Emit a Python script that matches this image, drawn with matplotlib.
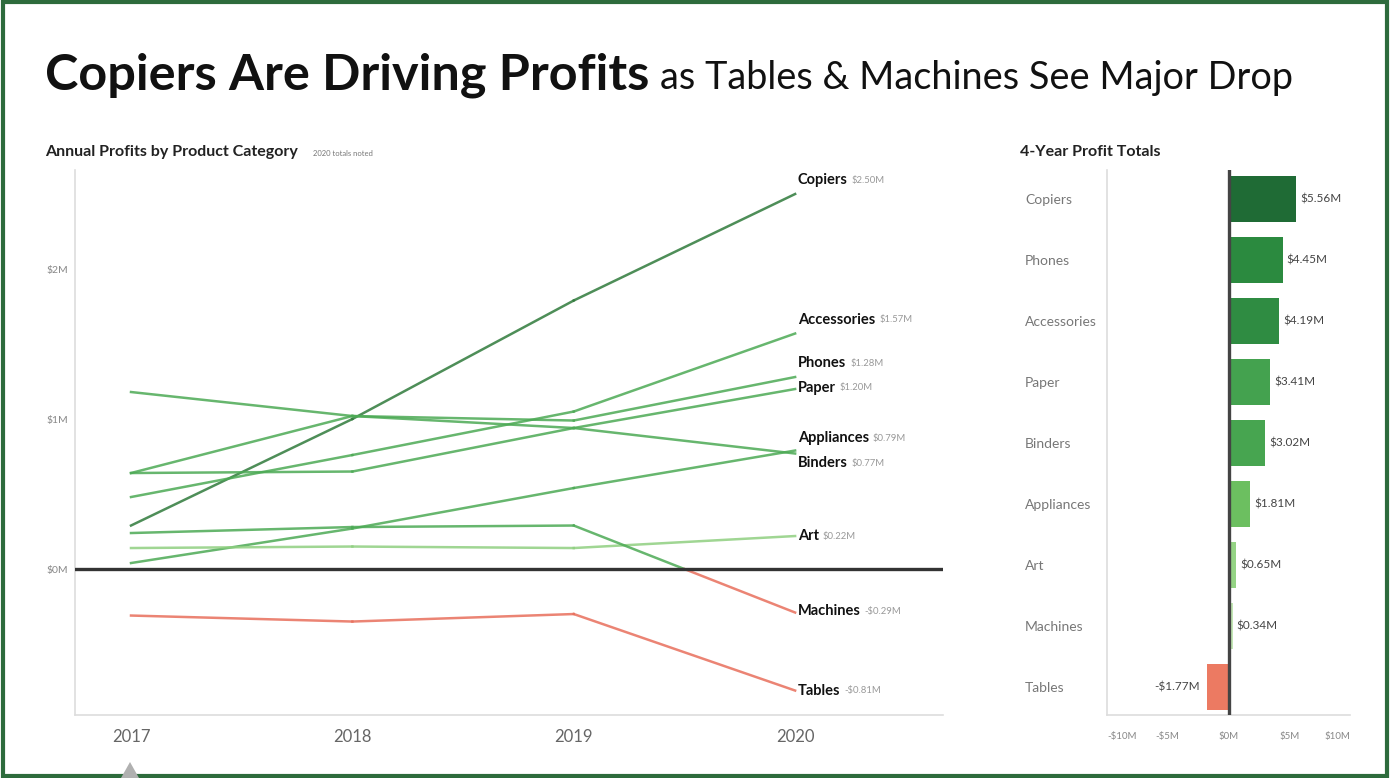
import matplotlib
matplotlib.use("Agg")
import matplotlib.pyplot as plt
import numpy as np
from matplotlib.patches import Rectangle, Polygon

plt.rcParams['font.family'] = ['Lato', 'DejaVu Sans']

# yearly profit per category ($M)
years = [2017, 2018, 2019, 2020]
categories = ['Copiers', 'Accessories', 'Phones', 'Paper', 'Appliances',
              'Binders', 'Art', 'Machines', 'Tables']
profits = {
    'Copiers':     [0.29, 1.00, 1.79, 2.50],
    'Accessories': [0.48, 0.76, 1.05, 1.57],
    'Phones':      [0.64, 1.02, 0.99, 1.28],
    'Paper':       [0.64, 0.65, 0.94, 1.20],
    'Appliances':  [0.04, 0.27, 0.54, 0.79],
    'Binders':     [1.18, 1.02, 0.94, 0.77],
    'Art':         [0.14, 0.15, 0.14, 0.22],
    'Machines':    [0.24, 0.28, 0.29, -0.29],
    'Tables':      [-0.31, -0.35, -0.30, -0.81],
}

# 4-year totals ($M)
total_names = ['Copiers', 'Phones', 'Accessories', 'Paper', 'Binders',
               'Appliances', 'Art', 'Machines', 'Tables']
total_values = [5.56, 4.45, 4.19, 3.41, 3.02, 1.81, 0.65, 0.34, -1.77]

GREEN_LINE = '#4caa55'
RED_LINE = '#e86f5c'
line_colors = {'Copiers': '#2f7a3b', 'Art': '#8fcf80'}
# vertical nudge (points) of end labels so they don't collide
label_nudge = {'Copiers': 10, 'Accessories': 10, 'Phones': 10, 'Paper': 1,
               'Appliances': 9, 'Binders': -7, 'Machines': 1}
bar_colors = ['#1f6b35', '#2b8a3f', '#2f8c42', '#44a24f', '#47a550',
              '#6cbf60', '#94d384', '#c3e6b5', '#ec7a62']

W, H = 13.9, 7.78
fig = plt.figure(figsize=(W, H), dpi=100)
fig.patch.set_facecolor('white')
fig.patches.append(Rectangle((0.002, 0.003), 0.996, 0.994, transform=fig.transFigure,
                             fill=False, edgecolor='#2d6b3c', linewidth=3))

fig.text(45 / 1390, 1 - 89 / 778, 'Copiers Are Driving Profits', fontsize=36.3,
         fontweight='bold', va='baseline', ha='left', color='#111111')
fig.text(660 / 1390, 1 - 89 / 778, 'as Tables & Machines See Major Drop', fontsize=27.3,
         va='baseline', ha='left', color='#111111')

# ---- left: annual lines ----
ax = fig.add_axes([75 / 1390, 1 - 715 / 778, 868 / 1390, 545 / 778])
ax.set_xlim(2016.747, 2020.668)
ax.set_ylim(-0.973, 2.66)
for side in ['top', 'right']:
    ax.spines[side].set_visible(False)
for side in ['left', 'bottom']:
    ax.spines[side].set_color('#dddddd')
    ax.spines[side].set_linewidth(1.2)
ax.set_xticks(years)
ax.set_xticklabels([str(y) for y in years])
ax.tick_params(axis='x', length=0, pad=10, labelsize=12, labelcolor='#666666')
ax.set_yticks([0, 1, 2])
ax.set_yticklabels(['$0M', '$1M', '$2M'])
ax.tick_params(axis='y', length=0, pad=5, labelsize=7.5, labelcolor='#888888')
ax.axhline(0, color='#333333', linewidth=2.4, zorder=3)

for name in categories:
    vals = np.array(profits[name])
    yrs = np.array(years, dtype=float)
    base = line_colors.get(name, GREEN_LINE)
    for i in range(len(yrs) - 1):
        x0, x1, y0, y1 = yrs[i], yrs[i + 1], vals[i], vals[i + 1]
        if y0 * y1 < 0:
            # split the segment where it crosses zero
            xc = x0 + (x1 - x0) * y0 / (y0 - y1)
            ax.plot([x0, xc], [y0, 0], color=base if y0 > 0 else RED_LINE, lw=1.8, alpha=0.85)
            ax.plot([xc, x1], [0, y1], color=base if y1 > 0 else RED_LINE, lw=1.8, alpha=0.85)
        else:
            c = base if (y0 + y1) >= 0 else RED_LINE
            ax.plot([x0, x1], [y0, y1], color=c, lw=1.8, alpha=0.85)

    last = vals[-1]
    sign = '-' if last < 0 else ''
    txt = ax.annotate(name, xy=(years[-1], last), xytext=(2, label_nudge.get(name, 0)),
                      textcoords='offset points', fontsize=10.5, fontweight='bold',
                      color='#111111', va='center', ha='left', annotation_clip=False)
    fig.canvas.draw()
    bb = txt.get_window_extent()
    fig.text((bb.x1 + 4) / fig.dpi / W, (bb.y0 + bb.height / 2) / fig.dpi / H,
             '{}${:.2f}M'.format(sign, abs(last)), fontsize=6.8, color='#999999',
             va='center', ha='left')

fig.text(45 / 1390, 1 - 152 / 778, 'Annual Profits by Product Category', fontsize=11.5,
         fontweight='bold', color='#222222', va='center', ha='left')
fig.text(313 / 1390, 1 - 153 / 778, '2020 totals noted', fontsize=5.5, color='#777777',
         va='center', ha='left')

# ---- right: 4-year totals ----
ax2 = fig.add_axes([1107 / 1390, 1 - 715 / 778, 243 / 1390, 545 / 778])
ypos = np.arange(len(total_names))
ax2.barh(ypos, total_values, height=0.75, color=bar_colors, zorder=2)
ax2.set_xlim(-10, 10)
ax2.set_ylim(8.46, -0.475)
ax2.axvline(0, color='#444444', linewidth=2.4, zorder=3)
for side in ['top', 'right']:
    ax2.spines[side].set_visible(False)
for side in ['left', 'bottom']:
    ax2.spines[side].set_color('#dddddd')
    ax2.spines[side].set_linewidth(1.2)
ax2.set_yticks(ypos)
ax2.set_yticklabels(total_names)
ax2.tick_params(axis='y', length=0, pad=59, labelsize=10, labelcolor='#777777')
for lbl in ax2.get_yticklabels():
    lbl.set_horizontalalignment('left')
ax2.set_xticks([-10, -5, 0, 5, 10])
ax2.set_xticklabels(['-$10M', '-$5M', '$0M', '$5M', '$10M'])
ax2.tick_params(axis='x', length=0, pad=12, labelsize=7, labelcolor='#888888')
xl = ax2.get_xticklabels()
xl[0].set_horizontalalignment('left')
xl[-1].set_horizontalalignment('right')
for y, v in zip(ypos, total_values):
    lab = '{}${:.2f}M'.format('-' if v < 0 else '', abs(v))
    if v >= 0:
        ax2.annotate(lab, xy=(v, y), xytext=(3, 0), textcoords='offset points',
                     fontsize=8.5, color='#444444', va='center', ha='left')
    else:
        ax2.annotate(lab, xy=(v, y), xytext=(-5, 0), textcoords='offset points',
                     fontsize=8.5, color='#444444', va='center', ha='right')

fig.text(1020 / 1390, 1 - 152 / 778, '4-Year Profit Totals', fontsize=11.5,
         fontweight='bold', color='#222222', va='center', ha='left')

# small grey pointer at the bottom
fig.patches.append(Polygon([[121 / 1390, 0.0], [139 / 1390, 0.0], [130 / 1390, 16 / 778]],
                           closed=True, transform=fig.transFigure,
                           facecolor='#b0b0b0', edgecolor='none'))

fig.savefig('out.png', dpi=100, facecolor='white')
